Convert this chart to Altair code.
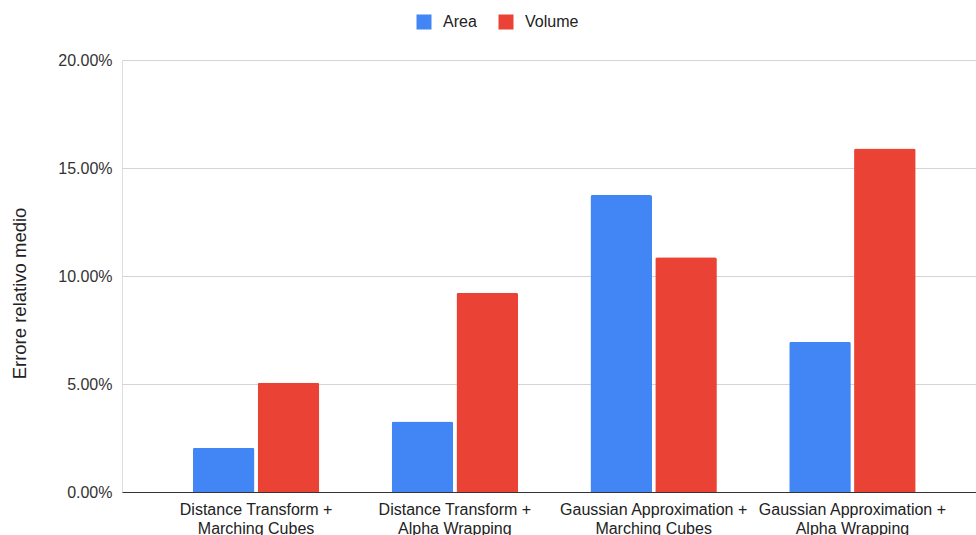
import altair as alt
import pandas as pd

# Mean relative error of each reconstruction pipeline
methods = [
    "Distance Transform + Marching Cubes",
    "Distance Transform + Alpha Wrapping",
    "Gaussian Approximation + Marching Cubes",
    "Gaussian Approximation + Alpha Wrapping",
]
area_error = [0.0205, 0.0326, 0.1375, 0.0696]
volume_error = [0.0506, 0.0922, 0.1087, 0.1590]
series = ["Area", "Volume"]
y_ticks = [0.0, 0.05, 0.10, 0.15, 0.20]

rows = []
for m, a, v in zip(methods, area_error, volume_error):
    rows.append({"method": m, "metric": "Area", "error": a})
    rows.append({"method": m, "metric": "Volume", "error": v})
df = pd.DataFrame(rows)

FONT = "Liberation Sans"
TEXT = "#222222"

bars = alt.Chart(df).mark_bar(
    cornerRadiusTopLeft=2, cornerRadiusTopRight=2
).encode(
    x=alt.X(
        "method:N",
        sort=methods,
        title=None,
        scale=alt.Scale(paddingInner=0.364, paddingOuter=0.33, align=0.54),
        axis=alt.Axis(
            labelAngle=0,
            labelExpr="[split(datum.label, ' + ')[0] + ' +', split(datum.label, ' + ')[1]]",
            labelFont=FONT,
            labelFontSize=16,
            labelColor=TEXT,
            labelLineHeight=19,
            labelPadding=9,
            labelLimit=400,
            ticks=False,
            domainColor="#333333",
            domainWidth=1,
            grid=False,
        ),
    ),
    xOffset=alt.XOffset(
        "metric:N", sort=series,
        scale=alt.Scale(paddingInner=0.05, paddingOuter=0),
    ),
    y=alt.Y(
        "error:Q",
        title="Errore relativo medio",
        scale=alt.Scale(domain=[0, 0.2], nice=False),
        axis=alt.Axis(
            values=y_ticks,
            format=".2%",
            labelFont=FONT,
            labelFontSize=16,
            labelColor="#333333",
            labelPadding=10,
            ticks=False,
            domain=False,
            gridColor="#d4d4d4",
            gridWidth=1,
            titleFont=FONT,
            titleFontSize=18.5,
            titleFontWeight="normal",
            titleColor=TEXT,
            titleAngle=-90,
            titleAlign="center",
            titleBaseline="middle",
            titleX=-103,
            titleY=233,
        ),
    ),
    color=alt.Color(
        "metric:N",
        sort=series,
        scale=alt.Scale(domain=series, range=["#4285F4", "#EA4335"]),
        legend=alt.Legend(
            title=None,
            orient="none",
            direction="horizontal",
            legendX=294,
            legendY=-46,
            symbolType="square",
            symbolSize=225,
            symbolStrokeWidth=0,
            labelFont=FONT,
            labelFontSize=16,
            labelColor=TEXT,
            labelOffset=11,
            columnPadding=21,
        ),
    ),
)

chart = bars.properties(
    width=854,
    height=432,
    autosize=alt.AutoSizeParams(type="none"),
    padding={"left": 122, "top": 60, "right": 0, "bottom": 43},
).configure_view(stroke=None).configure(background="white")

chart.save("out.html", embed_options={"renderer": "svg", "actions": False})
